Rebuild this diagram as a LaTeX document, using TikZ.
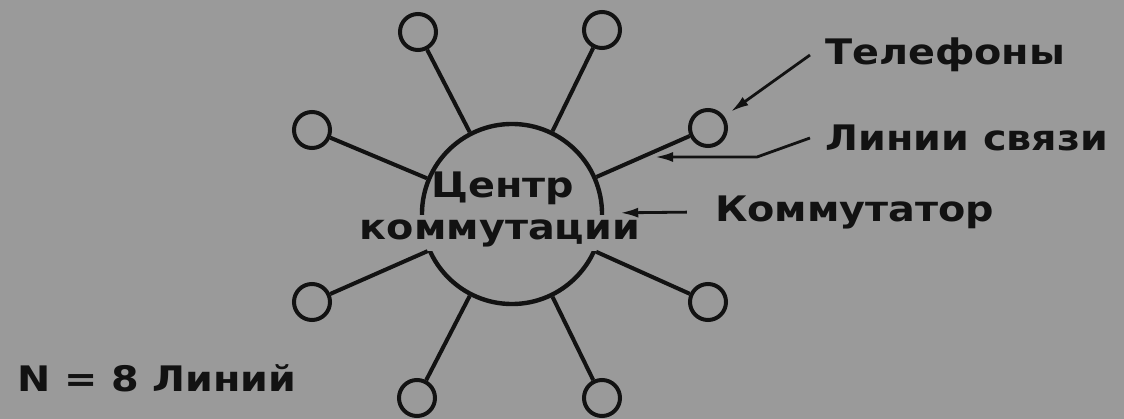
\documentclass[tikz,border=0pt]{standalone}
\usepackage{fontspec}
\setmainfont{DejaVu Sans}[FakeStretch=1.13]
\usepackage{tikz}
\usetikzlibrary{positioning,arrows.meta}
\definecolor{bg}{RGB}{154,154,154}
\definecolor{ink}{RGB}{18,18,18}

\begin{document}
\begin{tikzpicture}[x=0.025cm, y=-0.025cm,
  line width=0.1cm, draw=ink,
  phone/.style={circle, draw, line width=0.1cm, minimum size=0.9cm, inner sep=0pt},
  hubc/.style={circle, draw, line width=0.11cm, minimum size=4.5cm, inner sep=0pt},
  lab/.style={font=\fontsize{25}{29}\selectfont\bfseries, anchor=west, inner xsep=0.33cm, inner ysep=0pt, text=ink},
  ptr/.style={-{Latex[length=0.45cm,width=0.25cm]}, line width=0.07cm}]
\fill[bg] (0,0) rectangle (1124,419);
\useasboundingbox (0,0) rectangle (1124,419);
% switching centre
\node[hubc] (hub) at (512,214) {};
\node[lab, anchor=center, inner xsep=0pt] (hubtop) at (503,188) {Центр};
\node[lab, anchor=center, inner xsep=2pt, inner ysep=3pt, fill=bg] (hubbot) at (500,233) {коммутации};
% telephones
\node[phone] (ph1) at (418,32) {};
\node[phone] (ph2) at (602,30) {};
\node[phone] (ph3) at (708,128) {};
\node[phone] (ph4) at (312,130) {};
\node[phone] (ph5) at (312,302) {};
\node[phone] (ph6) at (708,302) {};
\node[phone] (ph7) at (417,398) {};
\node[phone] (ph8) at (602,398) {};
\draw (ph1) -- (hub);
\draw (ph2) -- (hub);
\draw (ph3) -- (hub);
\draw (ph4) -- (hub);
\draw (ph5) -- (hub);
\draw (ph6) -- (hub);
\draw (ph7) -- (hub);
\draw (ph8) -- (hub);
% labels
\node[lab] (lbltel) at (810,55) {Телефоны};
\node[lab] (lbllin) at (810,138) {Линии связи};
\node[lab] (lblsw) at (700,212) {Коммутатор};
\node[lab, inner xsep=0pt] (lbln) at (15,378) {N = 8 Линий};
\coordinate (lnkbend) at (757,157);
\coordinate (lnk) at (655,157);
\draw[ptr, shorten >=0.2cm] (lbltel.west) -- (ph3);
\draw[ptr] (lbllin.west) -- (lnkbend) -- (lnk);
\draw[ptr, shorten <=0.33cm, shorten >=0.4cm] (lblsw.west) -- (hub);
\end{tikzpicture}
\end{document}
